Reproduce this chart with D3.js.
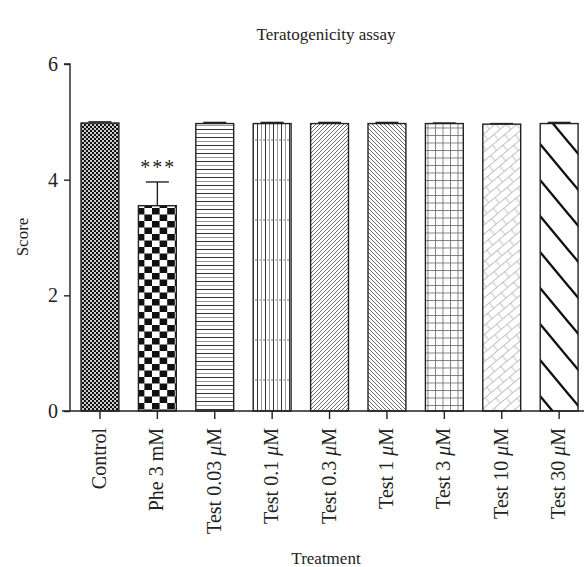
<!DOCTYPE html>
<html>
<head>
<meta charset="utf-8">
<script src="https://cdn.jsdelivr.net/npm/d3@7"></script>
<style>
  body { margin: 0; background: white; }
  text { font-family: "Liberation Serif", "DejaVu Serif", serif; fill: #222; }
</style>
</head>
<body>
<script>
// values
const labels = ["Control", "Phe 3 mM", "Test 0.03 ", "Test 0.1 ", "Test 0.3 ", "Test 1 ", "Test 3 ", "Test 10 ", "Test 30 "]
const micro  = [false, false, true, true, true, true, true, true, true]
const means  = [4.98, 3.55, 4.97, 4.97, 4.97, 4.97, 4.97, 4.96, 4.97]
const sems   = [0.02, 0.41, 0.02, 0.02, 0.02, 0.02, 0.01, 0.01, 0.02]
const stars  = ["", "***", "", "", "", "", "", "", ""]
const yTicks = [0, 2, 4, 6]

const W = 584, H = 567
const ink = "#222"

const svg = d3.select("body").append("svg")
    .attr("width", W)
    .attr("height", H)

// ---- fill patterns, one per bar ----
const defs = svg.append("defs")
function pat(id, w, h) {
    return defs.append("pattern")
        .attr("id", id)
        .attr("patternUnits", "userSpaceOnUse")
        .attr("width", w)
        .attr("height", h)
}
let p

// 0 fine dense checker
p = pat("p0", 4, 4)
p.append("rect").attr("width", 4).attr("height", 4).attr("fill", "#ccc")
p.append("rect").attr("width", 2).attr("height", 2).attr("fill", "#111")
p.append("rect").attr("x", 2).attr("y", 2).attr("width", 2).attr("height", 2).attr("fill", "#111")

// 1 big checker
p = pat("p1", 15.2, 13)
p.append("rect").attr("width", 15.2).attr("height", 13).attr("fill", "white")
p.append("rect").attr("width", 7.6).attr("height", 6.5).attr("fill", "#111")
p.append("rect").attr("x", 7.6).attr("y", 6.5).attr("width", 7.6).attr("height", 6.5).attr("fill", "#111")

// 2 horizontal lines
p = pat("p2", 8, 8)
p.append("rect").attr("width", 8).attr("height", 8).attr("fill", "white")
p.append("line").attr("x1", 0).attr("x2", 8).attr("y1", 1.5).attr("y2", 1.5).attr("stroke", "#333").attr("stroke-width", 1)
p.append("line").attr("x1", 0).attr("x2", 8).attr("y1", 5.5).attr("y2", 5.5).attr("stroke", "#999").attr("stroke-width", 1)

// 3 vertical lines
p = pat("p3", 8, 40)
p.append("rect").attr("width", 8).attr("height", 40).attr("fill", "white")
p.append("line").attr("y1", 0).attr("y2", 40).attr("x1", 1.5).attr("x2", 1.5).attr("stroke", "#333").attr("stroke-width", 1)
p.append("line").attr("y1", 0).attr("y2", 40).attr("x1", 5.5).attr("x2", 5.5).attr("stroke", "#999").attr("stroke-width", 1)
p.append("line").attr("x1", 0).attr("x2", 8).attr("y1", 20).attr("y2", 20).attr("stroke", "#555").attr("stroke-width", 0.8).attr("stroke-dasharray", "1.5,2")

// 4 fine diagonal /
p = pat("p4", 4, 4)
p.append("rect").attr("width", 4).attr("height", 4).attr("fill", "white")
p.append("path").attr("d", "M-1,1 L1,-1 M0,4 L4,0 M3,5 L5,3").attr("stroke", "#444").attr("stroke-width", 0.8)

// 5 fine diagonal \
p = pat("p5", 4, 4)
p.append("rect").attr("width", 4).attr("height", 4).attr("fill", "white")
p.append("path").attr("d", "M-1,3 L1,5 M0,0 L4,4 M3,-1 L5,1").attr("stroke", "#444").attr("stroke-width", 0.8)

// 6 grid
p = pat("p6", 7.5, 7.5)
p.append("rect").attr("width", 7.5).attr("height", 7.5).attr("fill", "white")
p.append("path").attr("d", "M0,0.5 H7.5 M0.5,0 V7.5").attr("stroke", "#666").attr("stroke-width", 0.8)

// 7 light diagonal brick
p = pat("p7", 16, 14)
p.attr("patternTransform", "rotate(-40)")
p.append("rect").attr("width", 16).attr("height", 14).attr("fill", "white")
p.append("path").attr("d", "M0,0.5 H16 M0,7.5 H16 M4,0 V7 M12,7 V14")
    .attr("stroke", "#bbb").attr("stroke-width", 0.9)

// 8 thick sparse diagonal \
p = pat("p8", 30, 36)
p.append("rect").attr("width", 30).attr("height", 36).attr("fill", "white")
p.append("path").attr("d", "M-3,32.4 L3,39.6 M0,0 L30,36 M27,-3.6 L33,3.6").attr("stroke", "#111").attr("stroke-width", 2.4)

// ---- scales ----
const y = d3.scaleLinear().domain([0, 6]).range([411, 64])
const x = d3.scaleBand()
    .domain(d3.range(labels.length))
    .range([63.8, 595.3])
    .paddingInner(0.34)
    .paddingOuter(0.3)

const rows = labels.map((l, i) => ({ i, l, mu: micro[i], m: means[i], e: sems[i], s: stars[i] }))

// bars
svg.append("g").selectAll("rect")
    .data(rows)
    .join("rect")
        .attr("x", d => x(d.i))
        .attr("y", d => y(d.m))
        .attr("width", x.bandwidth())
        .attr("height", d => y(0) - y(d.m))
        .attr("fill", d => `url(#p${d.i})`)
        .attr("stroke", ink)
        .attr("stroke-width", 1.4)

// error bars (upper only)
const eb = svg.append("g").attr("stroke", ink).attr("stroke-width", 1.4)
eb.selectAll("line.v")
    .data(rows)
    .join("line")
        .attr("class", "v")
        .attr("x1", d => x(d.i) + x.bandwidth() / 2)
        .attr("x2", d => x(d.i) + x.bandwidth() / 2)
        .attr("y1", d => y(d.m))
        .attr("y2", d => y(d.m + d.e))
eb.selectAll("line.c")
    .data(rows)
    .join("line")
        .attr("class", "c")
        .attr("x1", d => x(d.i) + x.bandwidth() / 2 - 11.5)
        .attr("x2", d => x(d.i) + x.bandwidth() / 2 + 11.5)
        .attr("y1", d => y(d.m + d.e))
        .attr("y2", d => y(d.m + d.e))

// significance stars
svg.append("g").selectAll("text")
    .data(rows.filter(d => d.s))
    .join("text")
        .attr("x", d => x(d.i) + x.bandwidth() / 2 + 1)
        .attr("y", d => y(d.m + d.e) - 8)
        .attr("text-anchor", "middle")
        .attr("font-size", 20)
        .attr("letter-spacing", 2)
        .text(d => d.s)

// y axis
const ya = svg.append("g")
    .attr("transform", "translate(70,0)")
    .call(d3.axisLeft(y).tickValues(yTicks).tickSize(6).tickPadding(6).tickFormat(d3.format("d")))
ya.select(".domain").attr("stroke", ink).attr("stroke-width", 1.4).attr("d", `M-6,${y(6)}H0V${y(0)}`)
ya.selectAll(".tick line").attr("stroke", ink).attr("stroke-width", 1.4)
ya.selectAll(".tick text").attr("font-size", 20).attr("font-family", "Liberation Serif").attr("fill", ink)

// x axis
const xa = svg.append("g")
    .attr("transform", `translate(0,${y(0)})`)
    .call(d3.axisBottom(x).tickSize(8).tickFormat(""))
xa.select(".domain").attr("stroke", ink).attr("stroke-width", 1.4).attr("d", `M62,0H${W}`)
xa.selectAll(".tick line").attr("stroke", ink).attr("stroke-width", 1.4)

// rotated category labels
const cl = svg.append("g").selectAll("text")
    .data(rows)
    .join("text")
        .attr("transform", d => `translate(${x(d.i) + x.bandwidth() / 2 + 6},428) rotate(-90)`)
        .attr("text-anchor", "end")
        .attr("font-size", 20)
cl.append("tspan").text(d => d.l)
cl.filter(d => d.mu).append("tspan").attr("font-style", "italic").text("μ")
cl.filter(d => d.mu).append("tspan").text("M")

// titles
svg.append("text")
    .attr("x", 326).attr("y", 40)
    .attr("text-anchor", "middle")
    .attr("font-size", 17)
    .text("Teratogenicity assay")
svg.append("text")
    .attr("x", 326).attr("y", 564)
    .attr("text-anchor", "middle")
    .attr("font-size", 17)
    .text("Treatment")
svg.append("text")
    .attr("transform", "translate(28,237) rotate(-90)")
    .attr("text-anchor", "middle")
    .attr("font-size", 17)
    .text("Score")
</script>
</body>
</html>
